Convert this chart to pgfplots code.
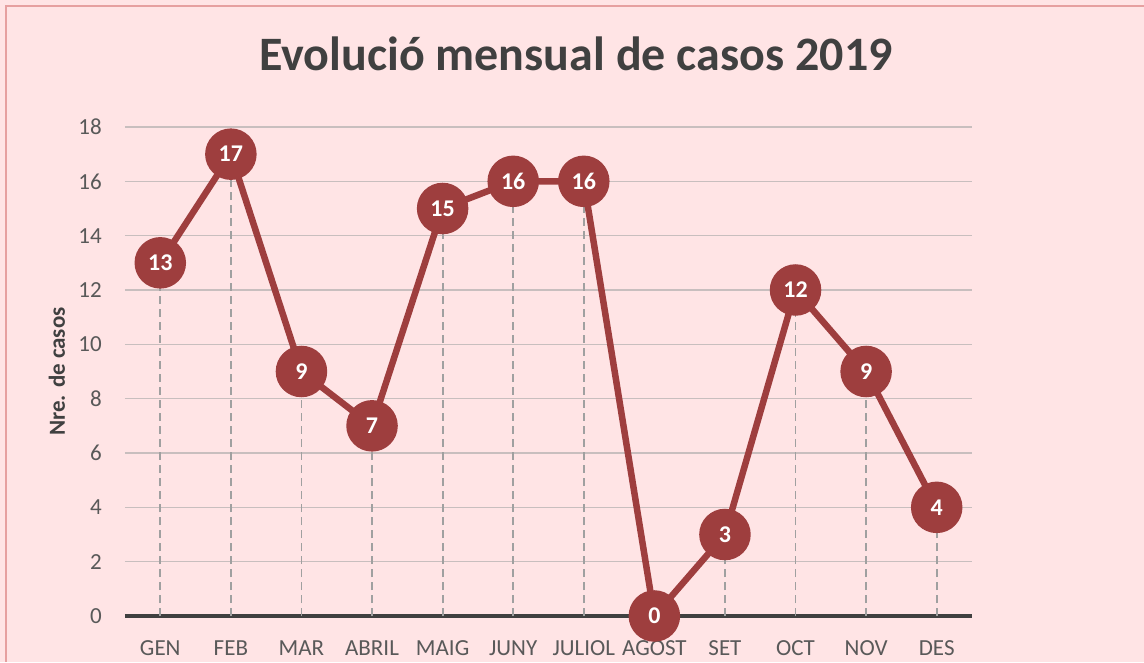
\documentclass[border=0pt]{standalone}
\usepackage{pgfplots}
\pgfplotsset{compat=1.18}
\usepackage{fontspec}
\setmainfont{Carlito}
\definecolor{bgpink}{RGB}{255,228,229}
\definecolor{borderpink}{RGB}{230,160,160}
\definecolor{markred}{RGB}{158,62,62}
\definecolor{gridc}{RGB}{200,190,190}
\definecolor{dropc}{RGB}{160,160,160}
\definecolor{axisc}{RGB}{64,64,64}
\definecolor{tickc}{RGB}{89,89,89}
\definecolor{titlec}{RGB}{64,64,64}
\begin{document}
\begin{tikzpicture}[x=1pt,y=1pt]
\useasboundingbox (0,0) rectangle (1144,662);
\fill[bgpink] (0,0) rectangle (1144,662);
\draw[borderpink, line width=2pt] (6,0) -- (6,656) -- (1144,656);
\node[font=\fontsize{48}{50}\selectfont\bfseries, text=titlec, anchor=base, inner sep=0pt] at (576,591) {Evolució mensual de casos 2019};
\begin{axis}[
  at={(125pt,46pt)}, anchor=south west,
  scale only axis, width=847pt, height=489pt,
  xmin=-0.5, xmax=11.5, ymin=0, ymax=18,
  clip=false,
  axis line style={draw=none},
  major tick length=0pt,
  tick style={draw=none},
  xtick={0,...,11},
  xticklabels={GEN,FEB,MAR,ABRIL,MAIG,JUNY,JULIOL,AGOST,SET,OCT,NOV,DES},
  ytick={0,2,...,18},
  ymajorgrids, grid style={gridc, line width=1.5pt},
  ticklabel style={font=\fontsize{23}{25}\selectfont, text=tickc},
  xticklabel style={anchor=base, inner sep=0pt, yshift=-39pt},
  yticklabel style={anchor=east, inner sep=0pt, xshift=-23pt},
  /pgf/number format/assume math mode=true,
  ylabel={Nre. de casos},
  ylabel style={at={(rel axis cs:-0.0803,0.5)}, anchor=center, rotate=0, font=\fontsize{23}{25}\selectfont\bfseries, text=titlec},
]
\draw[axisc, line width=3.5pt] (axis cs:-0.5,0) -- (axis cs:11.5,0);
\addplot[ycomb, dropc, line width=1.8pt, dash pattern=on 8pt off 5pt, no marks] coordinates {
 (0,13) (1,17) (2,9) (3,7) (4,15) (5,16) (6,16) (7,0) (8,3) (9,12) (10,9) (11,4)};
\addplot[markred, line width=6.5pt, mark=*, mark size=22.5pt, mark options={fill=markred, draw=none},
  nodes near coords, nodes near coords style={anchor=center, text=white, font=\fontsize{24}{26}\selectfont\bfseries, inner sep=0pt}] coordinates {
 (0,13) (1,17) (2,9) (3,7) (4,15) (5,16) (6,16) (7,0) (8,3) (9,12) (10,9) (11,4)};
\end{axis}
\end{tikzpicture}
\end{document}
